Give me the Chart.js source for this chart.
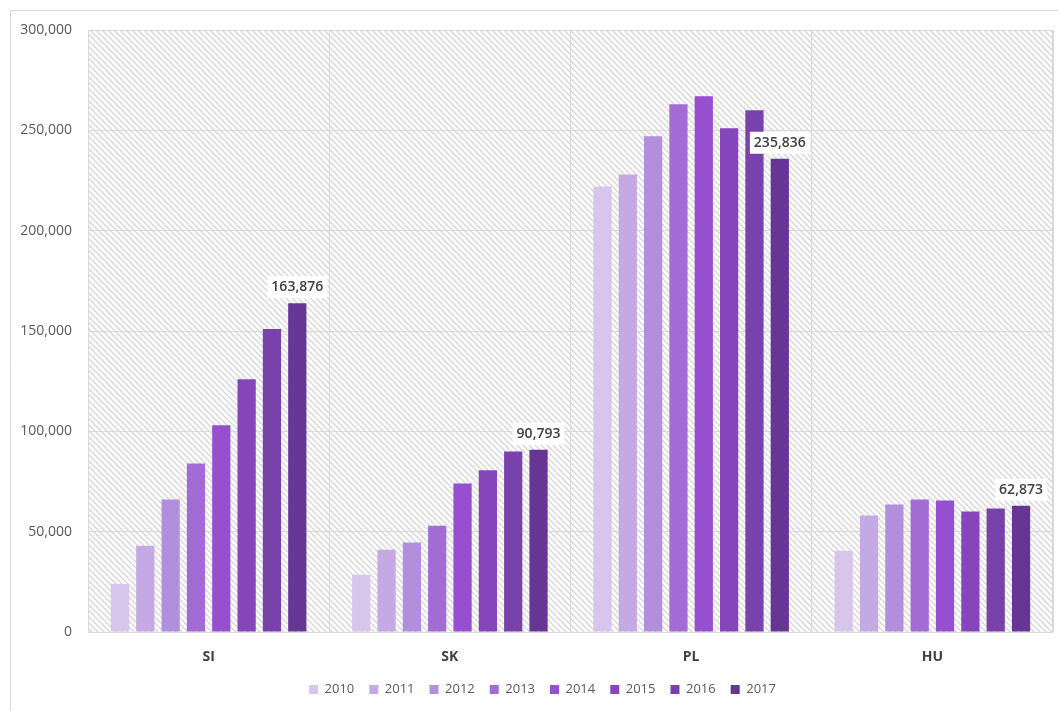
<!DOCTYPE html>
<html>
<head>
<meta charset="utf-8">
<script src="https://cdn.jsdelivr.net/npm/chart.js@4"></script>
<style>
  html, body { margin: 0; padding: 0; background: #fff; }
  #wrap { width: 1058px; height: 711px; position: relative; }
</style>
</head>
<body>
<div id="wrap"><canvas id="chart"></canvas></div>
<script>
// ─── Données ────────────────────────────────────────────────────────────────
const countries = ["SI", "SK", "PL", "HU"];
const years = ["2010", "2011", "2012", "2013", "2014", "2015", "2016", "2017"];

// valeurs par année, dans l'ordre SI, SK, PL, HU
const v2010 = [24000, 28500, 222000, 40500];
const v2011 = [43000, 41000, 228000, 58000];
const v2012 = [66000, 44600, 247000, 63600];
const v2013 = [84000, 53000, 263000, 66000];
const v2014 = [103000, 74000, 267000, 65500];
const v2015 = [126000, 80600, 251000, 60000];
const v2016 = [151000, 90000, 260000, 61600];
const v2017 = [163876, 90793, 235836, 62873];

const yTicks = [0, 50000, 100000, 150000, 200000, 250000, 300000];

const seriesValues = [v2010, v2011, v2012, v2013, v2014, v2015, v2016, v2017];
const seriesColors = ["#d8c5ec", "#c5a9e4", "#b28fdc", "#a36cd5", "#954fcf", "#8546bc", "#7842aa", "#673695"];

const FONT = "'Open Sans', sans-serif";
const fmt = (n) => n.toLocaleString("en-US");

// ─── Motif hachuré du fond ──────────────────────────────────────────────────
function hatchPattern(ctx) {
  const c = document.createElement("canvas");
  c.width = 6; c.height = 6;
  const p = c.getContext("2d");
  p.fillStyle = "#ffffff";
  p.fillRect(0, 0, 6, 6);
  p.strokeStyle = "#d8d8d8";
  p.lineWidth = 1.5;
  p.beginPath();
  p.moveTo(-1, -1); p.lineTo(7, 7);
  p.moveTo(-1, 5); p.lineTo(1, 7);
  p.moveTo(5, -1); p.lineTo(7, 1);
  p.stroke();
  return ctx.createPattern(c, "repeat");
}

const backgroundPlugin = {
  id: "background",
  afterLayout(chart) {
    // légende décalée un peu à droite, comme dans l'original
    if (chart.legend) {
      chart.legend.left += 16;
      chart.legend.right += 16;
    }
  },
  beforeDraw(chart) {
    const { ctx, chartArea: a } = chart;
    ctx.save();
    ctx.fillStyle = "#fff";
    ctx.fillRect(0, 0, chart.width, chart.height);
    // cadre extérieur
    ctx.strokeStyle = "#d9d9d9";
    ctx.lineWidth = 1;
    ctx.beginPath();
    ctx.moveTo(10.5, chart.height);
    ctx.lineTo(10.5, 10.5);
    ctx.lineTo(chart.width, 10.5);
    ctx.stroke();
    // zone de tracé hachurée
    ctx.fillStyle = hatchPattern(ctx);
    ctx.fillRect(a.left, a.top, a.right - a.left, a.bottom - a.top);
    ctx.strokeStyle = "#d9d9d9";
    ctx.strokeRect(a.left + 0.5, a.top + 0.5, a.right - a.left - 1, a.bottom - a.top);
    ctx.restore();
  },
};

// étiquettes de valeur sur la dernière série
const lastLabelPlugin = {
  id: "lastLabel",
  afterDatasetsDraw(chart) {
    const { ctx } = chart;
    const last = chart.data.datasets.length - 1;
    const meta = chart.getDatasetMeta(last);
    ctx.save();
    ctx.font = "600 14px " + FONT;
    ctx.textAlign = "center";
    ctx.textBaseline = "middle";
    meta.data.forEach((bar, i) => {
      const text = fmt(chart.data.datasets[last].data[i]);
      const w = ctx.measureText(text).width + 8;
      const cy = bar.y - 16;
      ctx.fillStyle = "#ffffff";
      ctx.fillRect(bar.x - w / 2, cy - 11, w, 22);
      ctx.fillStyle = "#404040";
      ctx.fillText(text, bar.x, cy);
    });
    ctx.restore();
  },
};

const ctx = document.getElementById("chart").getContext("2d");
new Chart(ctx, {
  type: "bar",
  data: {
    labels: countries,
    datasets: years.map((y, i) => ({
      label: y,
      data: seriesValues[i],
      backgroundColor: seriesColors[i],
      borderWidth: 0,
      barPercentage: 0.72,
      categoryPercentage: 0.84,
    })),
  },
  options: {
    responsive: true,
    maintainAspectRatio: false,
    animation: false,
    layout: { padding: { top: 30, right: 5, left: 0, bottom: 5 } },
    plugins: {
      legend: {
        position: "bottom",
        labels: {
          font: { family: FONT, size: 13 },
          color: "#595959",
          boxWidth: 9,
          boxHeight: 9,
          padding: 15,
        },
      },
      tooltip: { enabled: false },
    },
    scales: {
      x: {
        grid: { display: true, offset: true, color: "#d9d9d9", drawTicks: false },
        border: { display: false },
        ticks: { font: { family: FONT, size: 14, weight: "bold" }, color: "#404040", padding: 17 },
        afterFit: (s) => { s.height = 36; },
      },
      y: {
        min: 0,
        max: 300000,
        afterBuildTicks: (s) => { s.ticks = yTicks.map((v) => ({ value: v })); },
        grid: { color: "#d9d9d9", drawTicks: false },
        border: { display: false },
        ticks: {
          font: { family: FONT, size: 14 },
          color: "#595959",
          padding: 16,
          callback: (v) => fmt(v),
        },
        afterFit: (s) => { s.width = 88; },
      },
    },
  },
  plugins: [backgroundPlugin, lastLabelPlugin],
});
</script>
</body>
</html>
